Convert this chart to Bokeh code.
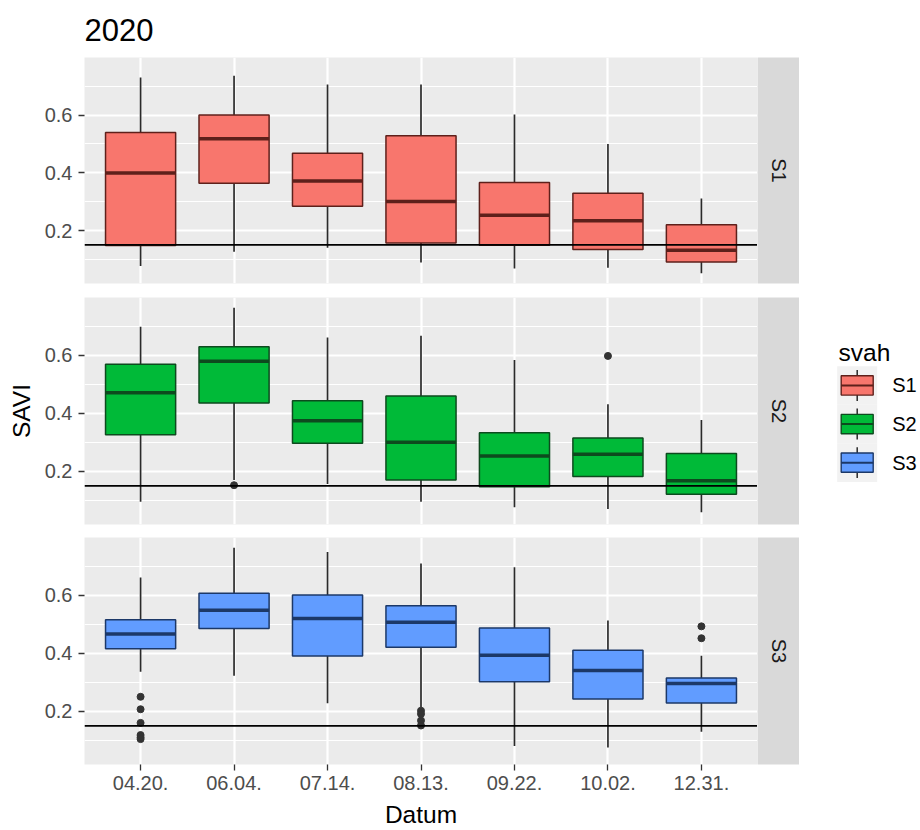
import math
from bokeh.plotting import figure
from bokeh.models import (ColumnDataSource, FactorRange, Range1d, FixedTicker,
                          CategoricalTicker, Span, Label)
from bokeh.layouts import row, column
from bokeh.transform import dodge
from bokeh.embed import file_html
from bokeh.resources import INLINE
from bokeh.core.properties import value

# ------------------------------------------------------------------ data
chart_title = "2020"
x_title = "Datum"
y_title = "SAVI"
legend_title = "svah"
dates = ["04.20.", "06.04.", "07.14.", "08.13.", "09.22.", "10.02.", "12.31."]
slopes = ["S1", "S2", "S3"]
y_ticks = [0.2, 0.4, 0.6]
y_minor_ticks = [0.1, 0.3, 0.5, 0.7]
threshold = 0.15

s1_low = [0.077, 0.126, 0.140, 0.089, 0.068, 0.071, 0.052]
s1_q1 = [0.148, 0.364, 0.284, 0.157, 0.149, 0.134, 0.091]
s1_med = [0.399, 0.518, 0.372, 0.301, 0.253, 0.234, 0.132]
s1_q3 = [0.540, 0.600, 0.468, 0.528, 0.366, 0.329, 0.220]
s1_high = [0.730, 0.736, 0.706, 0.706, 0.602, 0.500, 0.311]
s1_out_dates = []
s1_out_vals = []

s2_low = [0.095, 0.170, 0.156, 0.095, 0.076, 0.070, 0.059]
s2_q1 = [0.326, 0.436, 0.297, 0.170, 0.147, 0.182, 0.121]
s2_med = [0.471, 0.580, 0.374, 0.300, 0.253, 0.259, 0.167]
s2_q3 = [0.569, 0.630, 0.443, 0.460, 0.333, 0.315, 0.261]
s2_high = [0.699, 0.764, 0.662, 0.668, 0.584, 0.431, 0.377]
s2_out_dates = ["06.04.", "10.02."]
s2_out_vals = [0.152, 0.598]

s3_low = [0.336, 0.323, 0.228, 0.215, 0.080, 0.075, 0.129]
s3_q1 = [0.416, 0.486, 0.391, 0.421, 0.302, 0.242, 0.229]
s3_med = [0.467, 0.549, 0.520, 0.507, 0.393, 0.341, 0.296]
s3_q3 = [0.516, 0.607, 0.601, 0.564, 0.487, 0.411, 0.315]
s3_high = [0.662, 0.764, 0.750, 0.710, 0.697, 0.513, 0.392]
s3_out_dates = ["04.20."] * 6 + ["08.13."] * 4 + ["12.31."] * 2
s3_out_vals = [0.250, 0.207, 0.160, 0.118, 0.110, 0.104,
               0.202, 0.191, 0.168, 0.151, 0.493, 0.452]

# ------------------------------------------------------------------ style
FONT = "Liberation Sans"
fill_colors = ["#F8766D", "#00BA38", "#619CFF"]
edge_colors = ["#5E201B", "#0D4A1E", "#1C3868"]
WHISKER = "#2A2A2A"
PANEL_BG = "#EBEBEB"
STRIP_BG = "#D9D9D9"

LEFT = 84
PANEL_W = 673
PANEL_H = 227
TOP = 56
GAP1 = 14
GAP2 = 13
BOTTOM = 66
STRIP_W = 42
LEG_W = 120

series = [
    (s1_low, s1_q1, s1_med, s1_q3, s1_high, s1_out_dates, s1_out_vals),
    (s2_low, s2_q1, s2_med, s2_q3, s2_high, s2_out_dates, s2_out_vals),
    (s3_low, s3_q1, s3_med, s3_q3, s3_high, s3_out_dates, s3_out_vals),
]

all_vals = []
for s in series:
    all_vals += s[0] + s[4] + s[6]
lo, hi = min(all_vals), max(all_vals)
pad = 0.05 * (hi - lo)

x_range = FactorRange(factors=dates, range_padding=0.1, range_padding_units="absolute")
y_range = Range1d(lo - pad, hi + pad)


def style_text_axis(ax):
    ax.axis_line_color = None
    ax.major_tick_in = 0
    ax.major_tick_out = 6
    ax.major_tick_line_color = "#333333"
    ax.major_tick_line_width = 1.3
    ax.minor_tick_line_color = None
    ax.major_label_text_font = FONT
    ax.major_label_text_font_size = "20px"
    ax.major_label_text_color = "#4D4D4D"
    ax.axis_label_text_font = FONT
    ax.axis_label_text_font_size = "24.5px"
    ax.axis_label_text_font_style = "normal"
    ax.axis_label_text_color = "#000000"


def make_panel(i, top, bottom, with_title=False, with_x=False, with_ylab=False):
    low, q1, med, q3, high, od, ov = series[i]
    p = figure(x_range=x_range, y_range=y_range,
               width=LEFT + PANEL_W, height=top + PANEL_H + bottom,
               min_border_left=LEFT, min_border_right=0,
               min_border_top=top, min_border_bottom=bottom,
               x_axis_location="below" if with_x else None,
               toolbar_location=None, output_backend="svg",
               title=chart_title if with_title else None)
    p.background_fill_color = PANEL_BG
    p.border_fill_color = "white"
    p.outline_line_color = None

    yt = FixedTicker(ticks=y_ticks, minor_ticks=y_minor_ticks)
    p.yaxis.ticker = yt
    p.ygrid.ticker = yt
    p.ygrid.grid_line_color = "white"
    p.ygrid.grid_line_width = 2.2
    p.ygrid.minor_grid_line_color = "white"
    p.ygrid.minor_grid_line_width = 1.1
    p.xgrid.ticker = CategoricalTicker()
    p.xgrid.grid_line_color = "white"
    p.xgrid.grid_line_width = 2.2

    for ax in p.yaxis:
        style_text_axis(ax)
        ax.major_label_standoff = 6
        if with_ylab:
            ax.axis_label = y_title
            ax.axis_label_standoff = 7
    if with_x:
        for ax in p.xaxis:
            style_text_axis(ax)
            ax.major_label_standoff = 5
            ax.axis_label = x_title
            ax.axis_label_standoff = 8

    if with_title:
        p.title.text_font = FONT
        p.title.text_font_size = "31px"
        p.title.text_font_style = "normal"
        p.title.text_color = "#000000"
        p.title.align = "left"
        p.title.standoff = 33

    src = ColumnDataSource(dict(date=dates, low=low, q1=q1, med=med, q3=q3, high=high))
    p.segment(x0="date", y0="low", x1="date", y1="high", source=src,
              line_color=WHISKER, line_width=1.7)
    p.vbar(x="date", width=0.75, bottom="q1", top="q3", source=src,
           fill_color=fill_colors[i], line_color=edge_colors[i], line_width=1.5)
    p.segment(x0=dodge("date", -0.375, range=x_range), y0="med",
              x1=dodge("date", 0.375, range=x_range), y1="med", source=src,
              line_color=edge_colors[i], line_width=3.5)
    if od:
        osrc = ColumnDataSource(dict(date=od, val=ov))
        p.scatter(x="date", y="val", source=osrc, size=7,
                  fill_color="#333333", line_color="#333333")
    p.add_layout(Span(location=threshold, dimension="width",
                      line_color="#000000", line_width=1.8))
    return p


def make_strip(i, top, bottom):
    s = figure(width=STRIP_W, height=top + PANEL_H + bottom,
               x_range=Range1d(0, 1), y_range=Range1d(0, 1),
               min_border_left=0, min_border_right=0,
               min_border_top=top, min_border_bottom=bottom,
               x_axis_location=None, y_axis_location=None,
               toolbar_location=None, output_backend="svg", title=None)
    s.background_fill_color = STRIP_BG
    s.outline_line_color = None
    s.grid.visible = False
    s.add_layout(Label(x=0.5, y=0.5, text=slopes[i], angle=-math.pi / 2,
                       text_align="center", text_baseline="middle",
                       text_font=FONT, text_font_size="20px",
                       text_color="#1A1A1A"))
    return s


def make_legend(height):
    lg = figure(width=LEG_W, height=height,
                x_range=Range1d(0, LEG_W), y_range=Range1d(height, 0),
                min_border_left=0, min_border_right=0,
                min_border_top=0, min_border_bottom=0,
                x_axis_location=None, y_axis_location=None,
                toolbar_location=None, output_backend="svg", title=None)
    lg.background_fill_color = "white"
    lg.outline_line_color = None
    lg.grid.visible = False

    key_left, key_w, key_top, key_h = 37.7, 40.0, 72.6, 40.8
    n = len(slopes)
    tops = [key_top + k * key_h for k in range(n)]
    cx = key_left + key_w / 2
    ksrc = ColumnDataSource(dict(
        label=slopes, fill=fill_colors, edge=edge_colors,
        top=tops, bottom=[t + key_h for t in tops],
        wt=[t + 0.1 * key_h for t in tops], wb=[t + 0.9 * key_h for t in tops],
        bt=[t + 0.25 * key_h for t in tops], bb=[t + 0.75 * key_h for t in tops],
        mid=[t + 0.5 * key_h for t in tops],
    ))
    lg.quad(left=key_left, right=key_left + key_w, top="top", bottom="bottom",
            source=ksrc, fill_color="#F2F2F2", line_color=None)
    lg.segment(x0=cx, y0="wt", x1=cx, y1="wb", source=ksrc,
               line_color=WHISKER, line_width=1.5)
    lg.quad(left=key_left + 0.1 * key_w, right=key_left + 0.9 * key_w,
            top="bt", bottom="bb", source=ksrc,
            fill_color="fill", line_color="edge", line_width=1.4)
    lg.segment(x0=key_left + 0.1 * key_w, y0="mid", x1=key_left + 0.9 * key_w,
               y1="mid", source=ksrc, line_color="edge", line_width=2.0)
    lg.text(x=key_left + key_w + 15, y="mid", text="label", source=ksrc,
            text_font=value(FONT), text_font_size="20px", text_color="#000000",
            text_baseline="middle", text_align="left")
    lg.add_layout(Label(x=39, y=58, text=legend_title, text_font=FONT,
                        text_font_size="24.5px", text_color="#000000",
                        text_baseline="alphabetic", text_align="left"))
    return lg


p1 = make_panel(0, TOP, GAP1, with_title=True)
p2 = make_panel(1, 0, GAP2, with_ylab=True)
p3 = make_panel(2, 0, BOTTOM, with_x=True)
s1 = make_strip(0, TOP, GAP1)
s2 = make_strip(1, 0, GAP2)
s3 = make_strip(2, 0, BOTTOM)
leg = make_legend(PANEL_H + GAP2)

layout = column(row(p1, s1), row(p2, s2, leg), row(p3, s3))

with open("out.html", "w") as f:
    f.write(file_html(layout, INLINE))
